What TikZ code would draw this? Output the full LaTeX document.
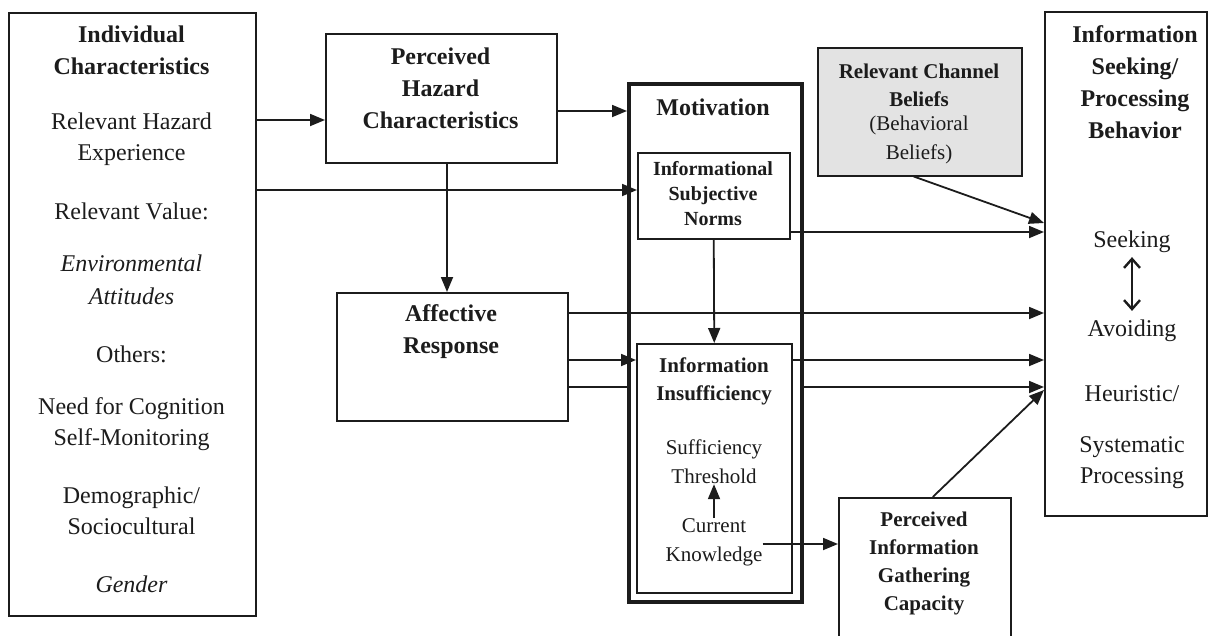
\documentclass[tikz,border=0pt]{standalone}
\usepackage{fontspec}
\setmainfont{Liberation Serif}
\usetikzlibrary{arrows.meta}
\definecolor{ink}{HTML}{1C1C1C}
\definecolor{shade}{HTML}{E3E3E3}
\begin{document}
\begin{tikzpicture}[x=1pt,y=-1pt,
  box/.style={draw=ink, line width=1.5pt, rectangle, inner sep=0pt, anchor=north west, fill=white},
  arr/.style={draw=ink, line width=1.8pt, -{Triangle[length=15pt,width=12pt]}},
  ln/.style={draw=ink, line width=1.8pt},
  dbl/.style={draw=ink, line width=2.4pt, {Straight Barb[length=9pt,width=16pt]}-{Straight Barb[length=9pt,width=16pt]}},
  hb/.style={font=\fontsize{24}{32}\selectfont\bfseries, align=center, inner sep=0pt, text=ink},
  hn/.style={font=\fontsize{24}{31}\selectfont, align=center, inner sep=0pt, text=ink},
  hi/.style={font=\fontsize{24}{33}\selectfont\itshape, align=center, inner sep=0pt, text=ink},
  sb/.style={font=\fontsize{21}{28}\selectfont\bfseries, align=center, inner sep=0pt, text=ink},
  sn/.style={font=\fontsize{21}{29}\selectfont, align=center, inner sep=0pt, text=ink},
  nb/.style={font=\fontsize{20}{25}\selectfont\bfseries, align=center, inner sep=0pt, text=ink}]

\clip (0,0) rectangle (1212,635);
\fill[white] (0,0) rectangle (1212,635);

% row and column helpers for straight connectors
\coordinate (r1) at (0,120);
\coordinate (r2) at (0,190);
\coordinate (r3) at (0,111);
\coordinate (r4) at (0,232);
\coordinate (r5) at (0,313);
\coordinate (r6) at (0,360);
\coordinate (r7) at (0,387);
\coordinate (r8) at (0,544);
\coordinate (r9) at (0,223);
\coordinate (r10) at (0,390);
\coordinate (c1) at (447,0);

% boxes
\node[box, minimum width=247pt, minimum height=603pt] (ic) at (8,12) {};
\node[box, minimum width=231pt, minimum height=129pt] (phc) at (325,33) {};
\node[box, minimum width=231pt, minimum height=128pt] (ar) at (336,292) {};
\node[box, minimum width=204pt, minimum height=128pt, fill=shade] (rcb) at (817,47) {};
\node[box, minimum width=162pt, minimum height=504pt] (ip) at (1044,11) {};
\node[box, minimum width=172pt, minimum height=170pt] (pigc) at (838,497) {};

% this connector runs behind the motivation block
\draw[arr] (ar.east |- r7) -- (ip.west |- r7);

\node[box, line width=4pt, minimum width=173pt, minimum height=518pt] (mot) at (627,82) {};
\node[box, minimum width=152pt, minimum height=86pt] (isn) at (637,152) {};
\node[box, minimum width=155pt, minimum height=249pt] (iis) at (636,343) {};

% texts: individual characteristics
\node[hb] (t1) at (131.5,50) {Individual\\Characteristics};
\node[hn] (t2) at (131.5,139) {Relevant Hazard\\Experience};
\node[hn] (t3) at (131.5,211) {Relevant V\kern-1pt alue:};
\node[hi] (t4) at (131.5,280) {Environmental\\Attitudes};
\node[hn] (t5) at (131.5,354) {Others:};
\node[hn] (t6) at (131.5,424) {Need for Cognition\\Self-Monitoring};
\node[hn] (t7) at (131.5,511) {Demographic/\\Sociocultural};
\node[hi] (t8) at (131.5,584) {Gender};

% texts: other blocks
\node[hb] (tphc) at (440.5,88) {Perceived\\Hazard\\Characteristics};
\node[hb] (tar) at (451,332) {Affective\\Response};
\node[hb] (tmot) at (713,107) {Motivation};
\node[nb] (tisn) at (713,194) {Informational\\Subjective\\Norms};
\node[sb] (tiis) at (714,381) {Information\\Insufficiency};
\node[sn] (st) at (714,462) {Sufficiency\\Threshold};
\node[sn] (ck) at (714,542) {Current\\Knowledge};
\node[sb] (trcb1) at (919,85) {Relevant Channel\\Beliefs};
\node[sn] (trcb2) at (919,140) {(Behavioral\\Beliefs)};
\node[hb] (tip) at (1135,82) {Information\\Seeking/\\Processing\\Behavior};
\node[hn] (seek) at (1132,242) {Seeking};
\node[hn] (avoid) at (1132,331) {Avoiding};
\node[hn] (heur) at (1132,394) {Heuristic/};
\node[hn] (sys) at (1132,463) {Systematic\\Processing};
\node[sb] (tpigc) at (924,563) {Perceived\\Information\\Gathering\\Capacity};

% connectors
\draw[arr] (ic.east |- r1) -- (phc.west |- r1);
\draw[arr] (ic.east |- r2) -- (isn.west |- r2);
\draw[arr] (phc.east |- r3) -- (mot.west |- r3);
\draw[arr] (phc.south -| c1) -- (ar.north -| c1);
\draw[arr] (isn.south) -- (iis.north);
\draw[arr] (ar.east |- r6) -- (iis.west |- r6);
\draw[arr] (ar.east |- r5) -- (ip.west |- r5);
\draw[arr] (isn.east |- r4) -- (ip.west |- r4);
\draw[arr] (iis.east |- r6) -- (ip.west |- r6);
\draw[arr] ([xshift=-6pt]rcb.south) -- (ip.west |- r9);
\draw[arr] ([xshift=8pt]pigc.north) -- (ip.west |- r10);
\draw[arr] (ck.north) -- (st.south);
\draw[arr] (ck.east |- r8) -- (pigc.west |- r8);
\draw[dbl, shorten <=4pt, shorten >=9pt] (seek.south) -- (avoid.north);
\end{tikzpicture}
\end{document}
